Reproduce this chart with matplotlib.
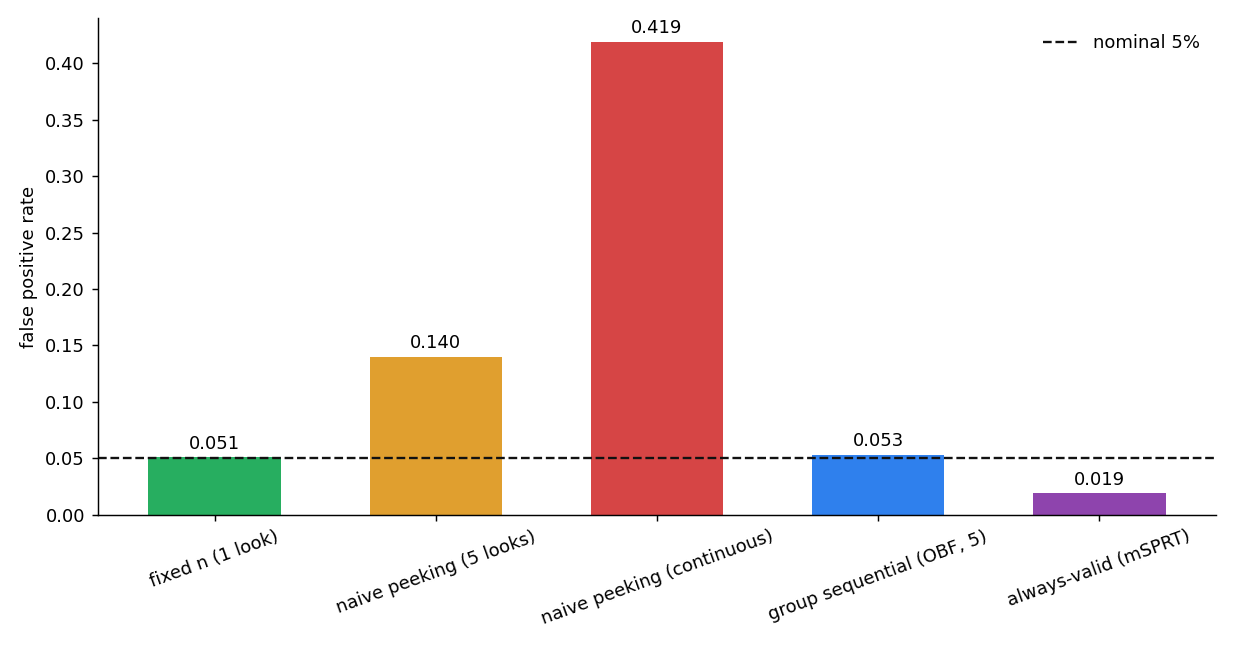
import matplotlib
matplotlib.use("Agg")
import matplotlib.pyplot as plt

categories = ["fixed n (1 look)", "naive peeking (5 looks)", "naive peeking (continuous)",
              "group sequential (OBF, 5)", "always-valid (mSPRT)"]
values = [0.051, 0.140, 0.419, 0.053, 0.019]
colors = ["#27ae60", "#e09f2f", "#d64545", "#2f80ed", "#8e44ad"]
nominal = 0.05

fig, ax = plt.subplots(figsize=(9.5, 5), dpi=130)
x = range(len(categories))
bars = ax.bar(x, values, width=0.6, color=colors)
ax.axhline(nominal, color="#111111", linestyle="--", linewidth=1.3, label="nominal 5%")
for xi, v in zip(x, values):
    ax.text(xi, v + 0.004, f"{v:.3f}", ha="center", va="bottom", fontsize=10)
ax.set_xticks(list(x))
ax.set_xticklabels(categories, rotation=20, ha="center")
ax.set_ylabel("false positive rate")
ax.set_ylim(0, max(values) * 1.05)
ax.spines["top"].set_visible(False)
ax.spines["right"].set_visible(False)
ax.legend(frameon=False, loc="upper right")
fig.subplots_adjust(left=0.079, right=0.985, top=0.972, bottom=0.208)
fig.savefig("out.png", dpi=130)
